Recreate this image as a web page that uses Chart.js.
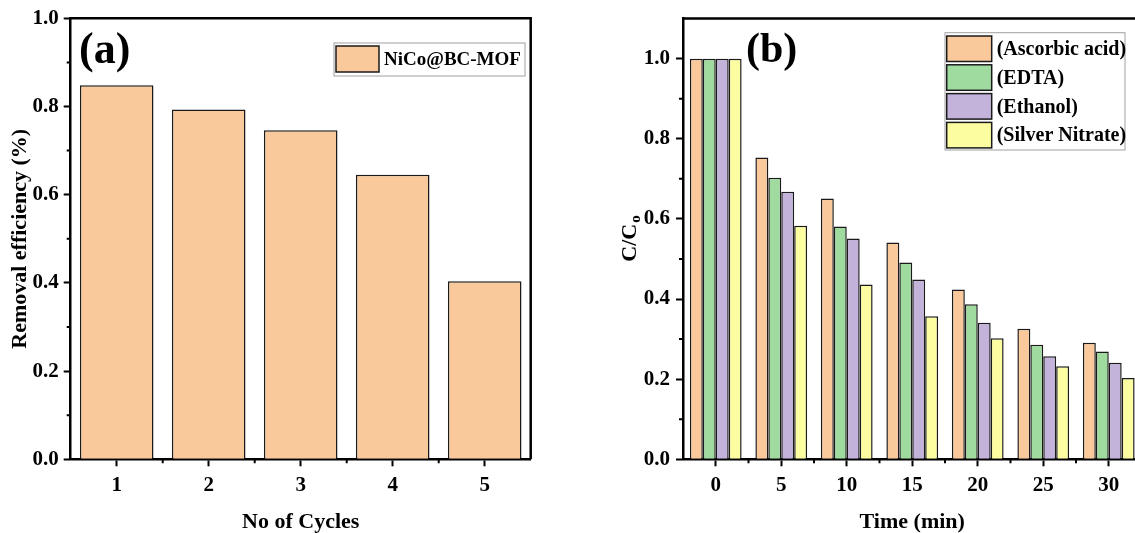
<!DOCTYPE html>
<html>
<head>
<meta charset="utf-8">
<script src="https://cdn.jsdelivr.net/npm/chart.js@4.4.1/dist/chart.umd.min.js"></script>
<style>
  html, body { margin: 0; padding: 0; background: #fff; overflow: hidden; }
  body { width: 1135px; height: 533px; position: relative; }
  #cyclesChart { position: absolute; left: 0; top: 0; }
  #scavengerChart { position: absolute; left: 570px; top: 0; }
</style>
</head>
<body>
<canvas id="cyclesChart" width="560" height="540"></canvas>
<canvas id="scavengerChart" width="600" height="540"></canvas>
<script>
// (a) reusability over repeated cycles
const cycles = ['1', '2', '3', '4', '5'];
const removalEfficiency = [0.848, 0.793, 0.746, 0.645, 0.404];

// (b) scavenger tests, C/Co vs time
const times = ['0', '5', '10', '15', '20', '25', '30'];
const ascorbicAcid = [1.0, 0.753, 0.651, 0.541, 0.424, 0.326, 0.291];
const edta = [1.0, 0.703, 0.581, 0.491, 0.387, 0.286, 0.269];
const ethanol = [1.0, 0.668, 0.551, 0.449, 0.341, 0.257, 0.241];
const silverNitrate = [1.0, 0.583, 0.436, 0.357, 0.302, 0.232, 0.203];

const minorY = [0.1, 0.3, 0.5, 0.7, 0.9];

const SERIF = "'Liberation Serif', 'Times New Roman', serif";
Chart.defaults.font.family = SERIF;
Chart.defaults.font.size = 21;
Chart.defaults.font.weight = 'bold';
Chart.defaults.color = '#000';

const PEACH = '#f9c89b';
const GREEN = '#9fda9f';
const PURPLE = '#c3b3db';
const YELLOW = '#fcfca0';
const EDGE = '#1a1a1a';

// frame, minor ticks, panel letter, boxed legend
const decor = {
  id: 'decor',
  afterDraw(chart, args, o) {
    const { ctx, chartArea: a, scales: { x, y } } = chart;
    ctx.save();
    ctx.strokeStyle = '#000';
    ctx.lineWidth = 2.5;
    ctx.beginPath();
    ctx.moveTo(a.left, a.top);
    ctx.lineTo(a.right, a.top);
    ctx.lineTo(a.right, a.bottom);
    ctx.stroke();

    ctx.lineWidth = 2;
    ctx.beginPath();
    o.minorY.forEach(v => {
      const py = y.getPixelForValue(v);
      ctx.moveTo(a.left, py);
      ctx.lineTo(a.left - 4, py);
    });
    for (let i = 1; i < chart.data.labels.length; i++) {
      const px = x.getPixelForValue(i - 0.5);
      ctx.moveTo(px, a.bottom);
      ctx.lineTo(px, a.bottom + 4);
    }
    ctx.stroke();

    ctx.fillStyle = '#000';
    ctx.font = `bold ${o.letter.size}px ${SERIF}`;
    ctx.textBaseline = 'alphabetic';
    ctx.textAlign = 'left';
    ctx.fillText(o.letter.text, o.letter.x, o.letter.y);

    const lg = o.legend;
    ctx.strokeStyle = '#a0a0a0';
    ctx.lineWidth = 1;
    ctx.strokeRect(lg.x, lg.y, lg.w, lg.h);
    ctx.font = `bold ${lg.size}px ${SERIF}`;
    ctx.textBaseline = 'middle';
    chart.data.datasets.forEach((ds, i) => {
      const top = lg.y + lg.padY + i * lg.step;
      const left = lg.x + lg.padX;
      ctx.fillStyle = ds.backgroundColor;
      ctx.fillRect(left, top, lg.swW, lg.swH);
      ctx.strokeStyle = EDGE;
      ctx.lineWidth = 1.5;
      ctx.strokeRect(left, top, lg.swW, lg.swH);
      ctx.fillStyle = '#000';
      ctx.fillText(ds.label, left + lg.swW + 5, top + lg.swH / 2 + 1);
    });

    if (o.yTitle) {
      const cy = (a.top + a.bottom) / 2;
      ctx.translate(o.yTitle.x, cy);
      ctx.rotate(-Math.PI / 2);
      ctx.textBaseline = 'alphabetic';
      ctx.font = `bold 22px ${SERIF}`;
      const main = o.yTitle.main;
      const wMain = ctx.measureText(main).width;
      ctx.font = `bold 15px ${SERIF}`;
      const wSub = ctx.measureText(o.yTitle.sub).width;
      const start = -(wMain + wSub) / 2;
      ctx.font = `bold 22px ${SERIF}`;
      ctx.fillText(main, start, 7);
      ctx.font = `bold 15px ${SERIF}`;
      ctx.fillText(o.yTitle.sub, start + wMain + 1, 11);
    }
    ctx.restore();
  }
};

function tickGrid() {
  return { display: true, drawOnChartArea: false, offset: false, tickLength: 7, tickWidth: 2, color: '#000' };
}
const axisBorder = { display: true, color: '#000', width: 2.5 };

new Chart(document.getElementById('cyclesChart'), {
  type: 'bar',
  data: {
    labels: cycles,
    datasets: [{
      label: 'NiCo@BC-MOF',
      data: removalEfficiency,
      backgroundColor: PEACH,
      borderColor: EDGE,
      borderWidth: 1.5,
      categoryPercentage: 0.8,
      barPercentage: 1.0
    }]
  },
  options: {
    responsive: false,
    animation: false,
    layout: { padding: { top: 18.3, right: 29.3, left: 0, bottom: 0 } },
    plugins: {
      legend: { display: false },
      tooltip: { enabled: false },
      decor: {
        minorY: minorY,
        letter: { text: '(a)', x: 79, y: 63, size: 44 },
        legend: { x: 334, y: 43, w: 191, h: 33, padX: 2, padY: 3, swW: 43, swH: 26, step: 0, size: 19 }
      }
    },
    scales: {
      x: {
        offset: true,
        grid: tickGrid(),
        border: axisBorder,
        ticks: { padding: 7 },
        title: { display: true, text: 'No of Cycles', font: { size: 22 }, padding: { top: 0, bottom: 4 } },
        afterFit: s => { s.height = 540 - 459.3; }
      },
      y: {
        min: 0,
        max: 1,
        grid: tickGrid(),
        border: axisBorder,
        ticks: { stepSize: 0.2, padding: 5, callback: v => v.toFixed(1) },
        title: { display: true, text: 'Removal efficiency (%)', font: { size: 22 }, padding: { top: 7, bottom: 0 } },
        afterFit: s => { s.width = 70.7; }
      }
    }
  },
  plugins: [decor]
});

new Chart(document.getElementById('scavengerChart'), {
  type: 'bar',
  data: {
    labels: times,
    datasets: [
      { label: '(Ascorbic acid)', data: ascorbicAcid, backgroundColor: PEACH },
      { label: '(EDTA)', data: edta, backgroundColor: GREEN },
      { label: '(Ethanol)', data: ethanol, backgroundColor: PURPLE },
      { label: '(Silver Nitrate)', data: silverNitrate, backgroundColor: YELLOW }
    ].map(ds => Object.assign(ds, { borderColor: EDGE, borderWidth: 1.5, categoryPercentage: 0.79, barPercentage: 1.0 }))
  },
  options: {
    responsive: false,
    animation: false,
    layout: { padding: { top: 17.5, right: 28.5, left: 0, bottom: 0 } },
    plugins: {
      legend: { display: false },
      tooltip: { enabled: false },
      decor: {
        minorY: minorY,
        letter: { text: '(b)', x: 176, y: 62, size: 42 },
        legend: { x: 375, y: 32.7, w: 180, h: 117.3, padX: 1.7, padY: 3.3, swW: 45, swH: 25.5, step: 28.8, size: 20 },
        yTitle: { x: 59, main: 'C/C', sub: 'o' }
      }
    },
    scales: {
      x: {
        offset: true,
        grid: tickGrid(),
        border: axisBorder,
        ticks: { padding: 7 },
        title: { display: true, text: 'Time (min)', font: { size: 22 }, padding: { top: 0, bottom: 4 } },
        afterFit: s => { s.height = 540 - 459.3; }
      },
      y: {
        min: 0,
        max: 1.1,
        grid: tickGrid(),
        border: axisBorder,
        ticks: { stepSize: 0.2, includeBounds: false, padding: 6, callback: v => v.toFixed(1) },
        afterFit: s => { s.width = 113; }
      }
    }
  },
  plugins: [decor]
});
</script>
</body>
</html>
